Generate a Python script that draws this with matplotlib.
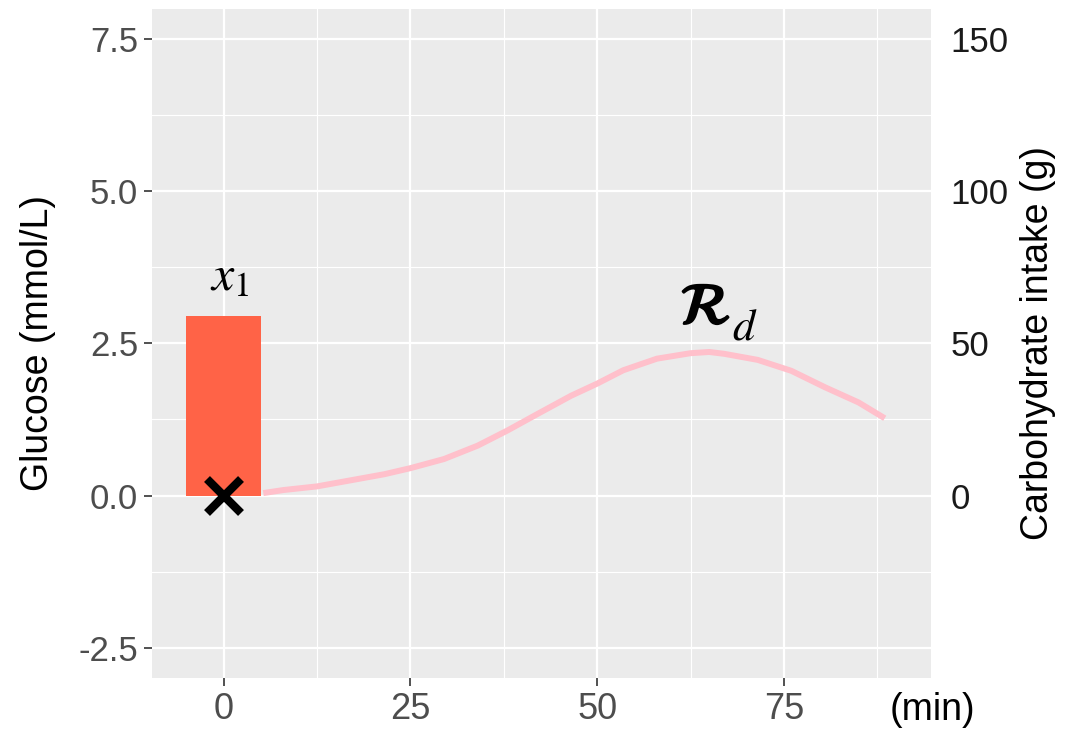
import numpy as np
import matplotlib
matplotlib.use("Agg")
import matplotlib.pyplot as plt
import matplotlib.patheffects as pe
from matplotlib import font_manager

# data
bar_x = [0]
bar_carbs = [59]          # grams (right axis)
meal_time = [0]
meal_glucose = [0.0]

ra_time = [5.3, 8.0, 12.5, 17.0, 21.5, 25.0, 29.5, 34.0, 38.0, 42.0, 46.5, 50.0,
           53.5, 58.0, 62.5, 65.0, 67.0, 71.5, 76.0, 80.5, 85.0, 88.5]
ra_value = [0.04, 0.09, 0.15, 0.25, 0.35, 0.45, 0.60, 0.82, 1.07, 1.34, 1.64, 1.84,
            2.06, 2.25, 2.34, 2.36, 2.33, 2.23, 2.05, 1.78, 1.53, 1.27]

y_ticks = [-2.5, 0.0, 2.5, 5.0, 7.5]
x_ticks = [0, 25, 50, 75]
carb_ticks = [0, 50, 100, 150]
scale = 20.0  # g per mmol/L on the twin axis

names = {f.name for f in font_manager.fontManager.ttflist}
plain = "Liberation Sans" if "Liberation Sans" in names else "DejaVu Sans"
narrow = "Liberation Sans Narrow" if "Liberation Sans Narrow" in names else plain

plt.rcParams["mathtext.fontset"] = "stix"

fig = plt.figure(figsize=(10.66, 7.35), dpi=100)
ax = fig.add_axes([0.1426, 0.0776, 0.8734 - 0.1426, 0.9878 - 0.0776])
ax.set_facecolor("#EBEBEB")
for s in ax.spines.values():
    s.set_visible(False)

ax.set_xlim(-9.6, 94.7)
ax.set_ylim(-3.0, 8.0)

# grid like ggplot
ax.set_xticks(x_ticks)
ax.set_yticks(y_ticks)
ax.set_xticks([12.5, 37.5, 62.5, 87.5], minor=True)
ax.set_yticks([-1.25, 1.25, 3.75, 6.25], minor=True)
ax.grid(True, which="major", color="white", linewidth=1.6)
ax.grid(True, which="minor", color="white", linewidth=0.8)
ax.set_axisbelow(True)
ax.tick_params(which="minor", length=0)
ax.tick_params(which="major", color="#333333", length=6, width=1.2, pad=4)

ax.set_yticklabels([f"{v:.1f}" for v in y_ticks], fontsize=25, color="#4D4D4D", family=plain)
ax.set_xticklabels([str(v) for v in x_ticks], fontsize=26, color="#4D4D4D", family=narrow)
ax.set_ylabel("Glucose (mmol/L)", fontsize=27, family=narrow, labelpad=16)

# carbohydrate bar (converted to glucose units)
ax.bar(bar_x, [c / scale for c in bar_carbs], width=10, color="tomato", zorder=2)
ax.plot(ra_time, ra_value, color="pink", linewidth=4.3, solid_capstyle="butt",
        solid_joinstyle="round", zorder=3)
ax.plot(meal_time, meal_glucose, marker="x", color="black", markersize=24,
        markeredgewidth=6, linestyle="none", zorder=4)

ax.text(0.8, 3.2, r"$x_1$", fontsize=36, ha="center", va="bottom")
# bold calligraphic R with a thin subscript d
rd = ax.text(64.5, 2.62, r"$\mathcal{R}$", fontsize=42, ha="center", va="bottom")
rd.set_path_effects([pe.withStroke(linewidth=1.8, foreground="black")])
ax.text(68.0, 2.42, r"$d$", fontsize=32, ha="left", va="bottom")

# right axis for carbohydrate intake
ax2 = ax.twinx()
ax2.set_ylim(ax.get_ylim()[0] * scale, ax.get_ylim()[1] * scale)
ax2.set_yticks(carb_ticks)
ax2.set_yticklabels([str(v) for v in carb_ticks], fontsize=25, color="#1A1A1A", family=plain)
ax2.tick_params(length=0, pad=14)
for s in ax2.spines.values():
    s.set_visible(False)
ax2.set_ylabel("Carbohydrate intake (g)", fontsize=27, family=narrow, labelpad=8)

fig.text(0.875, 0.034, "(min)", fontsize=27, family=narrow, ha="center", va="center", color="black")

fig.savefig("out.png", dpi=100)
